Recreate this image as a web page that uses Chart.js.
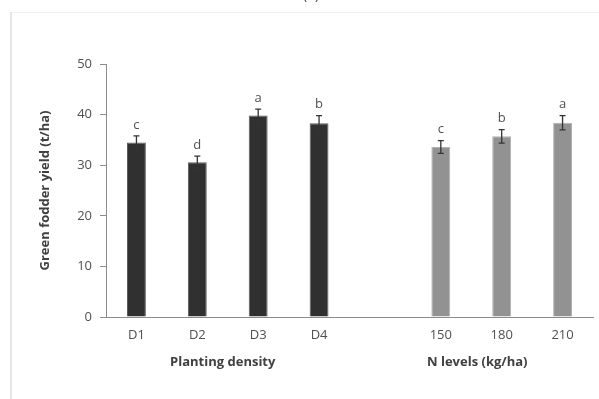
<!DOCTYPE html>
<html><head><meta charset="utf-8">
<script src="https://cdn.jsdelivr.net/npm/chart.js@4.4.0/dist/chart.umd.min.js"></script>
<style>html,body{margin:0;padding:0;background:#fff}#wrap{width:599px;height:399px}</style>
</head><body><div id="wrap"><canvas id="c" width="599" height="399"></canvas></div>
<script>
const categories = ['D1','D2','D3','D4','','150','180','210'];
const yieldValues = [34.5, 30.6, 39.8, 38.3, null, 33.6, 35.7, 38.4];
const errorValues = [1.3, 1.2, 1.3, 1.5, null, 1.25, 1.35, 1.4];
const letters = ['c','d','a','b','','c','b','a'];
const yTicks = [0,10,20,30,40,50];
const groupTitles = ['Planting density','N levels (kg/ha)'];
const yTitle = 'Green fodder yield (t/ha)';

const FONT = '"Open Sans", sans-serif';
const barColors = categories.map((c,i)=> i<4 ? '#303030' : '#929292');
const borderColors = categories.map((c,i)=> i<4 ? '#5a5a5a' : '#b0b0b0');

const decor = {
  id:'decor',
  beforeDraw(chart){
    const ctx = chart.ctx;
    ctx.save();
    ctx.fillStyle='#fff'; ctx.fillRect(0,0,chart.width,chart.height);
    ctx.fillStyle='#e6e6e6'; ctx.fillRect(10,12,2,chart.height-12);
    ctx.fillStyle='#f0f0f0'; ctx.fillRect(12,12,chart.width-12,1);
    ctx.fillStyle='#404040'; ctx.font='14px '+FONT; ctx.textAlign='center'; ctx.textBaseline='alphabetic';
    ctx.fillText('(a)', 311, -1);
    ctx.restore();
  },
  afterDatasetsDraw(chart){
    const ctx = chart.ctx, x = chart.scales.x, y = chart.scales.y;
    ctx.save();
    ctx.strokeStyle='#333'; ctx.lineWidth=1.3;
    yieldValues.forEach((v,i)=>{
      if(v==null) return;
      const px = x.getPixelForValue(i);
      const top = y.getPixelForValue(v+errorValues[i]);
      const bot = y.getPixelForValue(v-errorValues[i]);
      ctx.beginPath();
      ctx.moveTo(px,top); ctx.lineTo(px,bot);
      ctx.moveTo(px-3,top); ctx.lineTo(px+3,top);
      ctx.moveTo(px-3,bot); ctx.lineTo(px+3,bot);
      ctx.stroke();
      ctx.fillStyle='#505050'; ctx.font='13px '+FONT; ctx.textAlign='center'; ctx.textBaseline='middle';
      ctx.fillText(letters[i], px, top-11);
    });
    ctx.fillStyle='#404040'; ctx.font='bold 13px '+FONT; ctx.textAlign='center'; ctx.textBaseline='middle';
    const g1 = (x.getPixelForValue(1)+x.getPixelForValue(2))/2 - 5;
    const g2 = (x.getPixelForValue(5)+x.getPixelForValue(6))/2 + 6;
    ctx.fillText(groupTitles[0], g1, 362);
    ctx.fillText(groupTitles[1], g2, 362);
    ctx.translate(45, (y.top+y.bottom)/2);
    ctx.rotate(-Math.PI/2);
    ctx.fillText(yTitle, 0, 0);
    ctx.restore();
  }
};

new Chart(document.getElementById('c'), {
  type:'bar',
  data:{ labels: categories, datasets:[{ data: yieldValues, backgroundColor: barColors, borderColor: borderColors, borderWidth:1, categoryPercentage:1, barPercentage:0.31 }]},
  options:{
    responsive:false, animation:false, devicePixelRatio:1,
    layout:{ padding:{ left:0, right:6, top:64, bottom:0 } },
    plugins:{ legend:{display:false}, tooltip:{enabled:false}, title:{display:false} },
    scales:{
      x:{
        grid:{ display:false, drawTicks:false },
        border:{ display:true, color:'#8c8c8c', width:1 },
        ticks:{ color:'#505050', font:{ family:FONT, size:13 }, padding:10, autoSkip:false, maxRotation:0 },
        afterFit(s){ s.height = 82; }
      },
      y:{
        min:0, max:50,
        afterBuildTicks(s){ s.ticks = yTicks.map(v=>({value:v})); },
        grid:{ display:true, drawOnChartArea:false, drawTicks:true, tickLength:6, color:'#8c8c8c' },
        border:{ display:true, color:'#8c8c8c', width:1 },
        ticks:{ color:'#505050', font:{ family:FONT, size:13 }, padding:8 },
        afterFit(s){ s.width = 106; }
      }
    }
  },
  plugins:[decor]
});
</script></body></html>
